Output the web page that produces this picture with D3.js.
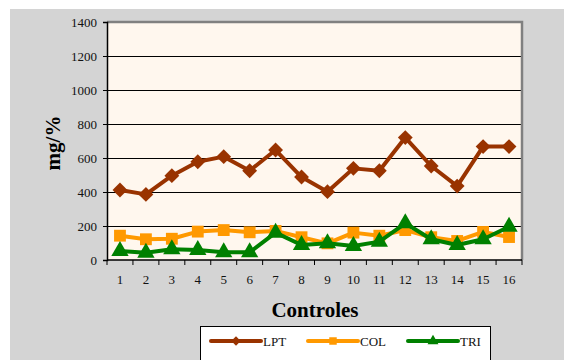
<!DOCTYPE html>
<html>
<head>
<meta charset="utf-8">
<script src="https://cdn.jsdelivr.net/npm/d3@7/dist/d3.min.js"></script>
<style>
  html, body { margin: 0; padding: 0; background: #ffffff; }
  svg { display: block; }
</style>
</head>
<body>
<svg id="chart" width="564" height="360"></svg>
<script>
const controles = ["1","2","3","4","5","6","7","8","9","10","11","12","13","14","15","16"];
const lpt = [412, 386, 496, 578, 608, 525, 647, 488, 402, 539, 525, 720, 553, 435, 667, 667];
const col = [143, 122, 125, 167, 176, 163, 171, 134, 98, 161, 143, 176, 134, 112, 165, 135];
const tri = [53, 43, 63, 59, 45, 45, 161, 88, 98, 82, 108, 216, 122, 88, 122, 196];
const yTicks = [0, 200, 400, 600, 800, 1000, 1200, 1400];

const FONT = "'Liberation Serif', 'Times New Roman', Times, 'DejaVu Serif', serif";

// LPT uses a square turned 45 degrees (an even-sided diamond)
const seriesList = [
  { name: "LPT", values: lpt, color: "#993300", symbol: d3.symbolSquare, size: 110, rotate: 45 },
  { name: "COL", values: col, color: "#ff9900", symbol: d3.symbolSquare, size: 140, rotate: 0 },
  { name: "TRI", values: tri, color: "#008000", symbol: d3.symbolTriangle, size: 130, rotate: 0 }
];

const svg = d3.select("#chart");
const W = 564, H = 360;
const plot = { left: 107, top: 22, right: 522, bottom: 260 };

// grey chart area
svg.append("rect").attr("x", 10).attr("y", 9).attr("width", W - 10).attr("height", H - 9)
  .attr("fill", "#d4d4d4");

const x = d3.scaleBand().domain(controles).range([plot.left, plot.right]);
const y = d3.scaleLinear().domain([0, 1400]).range([plot.bottom, plot.top]);

// plot background
svg.append("rect").attr("x", plot.left).attr("y", plot.top)
  .attr("width", plot.right - plot.left).attr("height", plot.bottom - plot.top)
  .attr("fill", "#fff7ee");

// horizontal gridlines
svg.append("g").selectAll("line").data(yTicks.filter(v => v > 0 && v < 1400)).join("line")
  .attr("x1", plot.left).attr("x2", plot.right)
  .attr("y1", d => Math.round(y(d)) + 0.5).attr("y2", d => Math.round(y(d)) + 0.5)
  .attr("stroke", "#000").attr("stroke-width", 1.2);

// top and right frame
svg.append("path")
  .attr("d", `M${plot.left},${plot.top} H${plot.right} V${plot.bottom}`)
  .attr("fill", "none").attr("stroke", "#808080").attr("stroke-width", 2.5);

// y axis
const yAxis = d3.axisLeft(y).tickValues(yTicks).tickSize(4).tickPadding(6).tickFormat(d3.format("d"));
const gy = svg.append("g").attr("transform", `translate(${plot.left},0)`).call(yAxis);
gy.attr("font-family", null);
gy.select(".domain").attr("stroke", "#000").attr("stroke-width", 1.5);
gy.selectAll(".tick line").attr("stroke", "#000");
gy.selectAll(".tick text").attr("fill", "#111")
  .style("font-family", FONT).style("font-size", "13px");

// x axis: ticks at category boundaries, labels centred in the bands
const gx = svg.append("g").attr("transform", `translate(0,${plot.bottom})`);
gx.append("line").attr("x1", plot.left).attr("x2", plot.right).attr("y1", 0).attr("y2", 0)
  .attr("stroke", "#000").attr("stroke-width", 1.5);
const bounds = controles.map(c => x(c)).concat([plot.right]);
gx.selectAll("line.t").data(bounds).join("line").attr("class", "t")
  .attr("x1", d => d).attr("x2", d => d).attr("y1", 0).attr("y2", 5)
  .attr("stroke", "#000");
gx.selectAll("text").data(controles).join("text")
  .attr("x", d => x(d) + x.bandwidth() / 2).attr("y", 24)
  .attr("text-anchor", "middle").attr("fill", "#111")
  .style("font-family", FONT).style("font-size", "13px")
  .text(d => d);

// axis titles
svg.append("text").attr("x", 315).attr("y", 317).attr("text-anchor", "middle")
  .style("font-family", FONT).style("font-size", "21px").style("font-weight", "bold")
  .attr("fill", "#000").text("Controles");
svg.append("text").attr("transform", "translate(60,143) rotate(-90)").attr("text-anchor", "middle")
  .style("font-family", FONT).style("font-size", "21px").style("font-weight", "bold")
  .attr("fill", "#000").text("mg/%");

// series
const cx = (d, i) => x(controles[i]) + x.bandwidth() / 2;
const line = d3.line().x(cx).y(d => y(d));
seriesList.forEach(s => {
  const g = svg.append("g");
  g.append("path").datum(s.values).attr("d", line)
    .attr("fill", "none").attr("stroke", s.color).attr("stroke-width", 4)
    .attr("stroke-linejoin", "round");
  g.selectAll("path.m").data(s.values).join("path").attr("class", "m")
    .attr("transform", (d, i) => `translate(${cx(d, i)},${y(d)}) rotate(${s.rotate})`)
    .attr("d", d3.symbol().type(s.symbol).size(s.size))
    .attr("fill", s.color);
});

// legend
const lg = svg.append("g");
lg.append("rect").attr("x", 200.5).attr("y", 326.5).attr("width", 290).attr("height", 40)
  .attr("fill", "#fff").attr("stroke", "#000").attr("stroke-width", 1);
const legendX = [211, 308, 408];
seriesList.forEach((s, i) => {
  const lx = legendX[i], ly = 341;
  lg.append("line").attr("x1", lx).attr("x2", lx + 50).attr("y1", ly).attr("y2", ly)
    .attr("stroke", s.color).attr("stroke-width", 4).attr("stroke-linecap", "round");
  lg.append("path").attr("transform", `translate(${lx + 25},${ly}) rotate(${s.rotate})`)
    .attr("d", d3.symbol().type(s.symbol).size(s.size * 0.4)).attr("fill", s.color);
  lg.append("text").attr("x", lx + 52).attr("y", ly + 5).attr("fill", "#111")
    .style("font-family", FONT).style("font-size", "13px").text(s.name);
});
</script>
</body>
</html>
